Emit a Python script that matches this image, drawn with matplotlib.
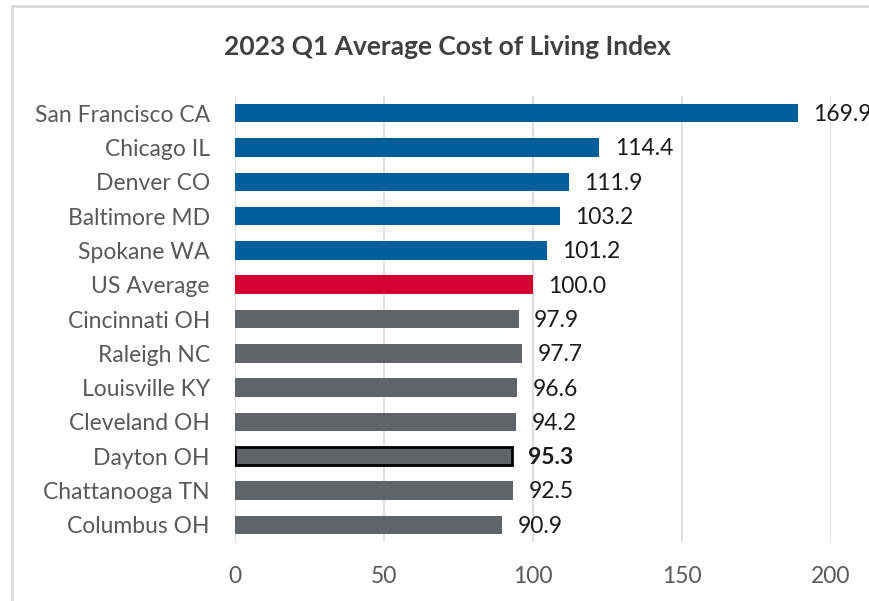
import matplotlib
matplotlib.use("Agg")
import matplotlib.pyplot as plt
from matplotlib.patches import Rectangle

# data
cities = ["San Francisco CA", "Chicago IL", "Denver CO", "Baltimore MD",
          "Spokane WA", "US Average", "Cincinnati OH", "Raleigh NC",
          "Louisville KY", "Cleveland OH", "Dayton OH", "Chattanooga TN",
          "Columbus OH"]
# bar lengths as drawn
bar_values = [188.8, 122.3, 112.0, 109.0, 104.6, 100.0, 95.2, 96.4,
              94.7, 94.3, 93.1, 93.4, 89.6]
# printed data labels
label_values = [169.9, 114.4, 111.9, 103.2, 101.2, 100.0, 97.9, 97.7,
                96.6, 94.2, 95.3, 92.5, 90.9]
x_ticks = [0, 50, 100, 150, 200]
title = "2023 Q1 Average Cost of Living Index"
highlight = "Dayton OH"
average = "US Average"

BLUE = "#005F9B"
RED = "#D50032"
GRAY = "#606469"

plt.rcParams['font.family'] = ['Lato', 'DejaVu Sans']

W, H = 869, 601
fig = plt.figure(figsize=(W / 100, H / 100), dpi=100)

# light frame around the chart
fig.patches.append(Rectangle((12 / W, -0.05), 1.1, 1.05 - 6 / H,
                             transform=fig.transFigure, fill=False,
                             edgecolor="#d9d9d9", linewidth=2))

ax = fig.add_axes([235 / W, 1 - 542 / H, (831 - 235) / W, (542 - 96) / H])

avg_idx = cities.index(average)
colors = [BLUE if i < avg_idx else RED if i == avg_idx else GRAY
          for i in range(len(cities))]

ypos = list(range(len(cities)))
bars = ax.barh(ypos, bar_values, height=0.54, color=colors, zorder=3)

hi = cities.index(highlight)
bars[hi].set_edgecolor("black")
bars[hi].set_linewidth(2)

for i, (b, v) in enumerate(zip(bar_values, label_values)):
    ax.annotate(f"{v:.1f}", xy=(b, i), xytext=(11, -1),
                textcoords="offset points", va="center", ha="left",
                fontsize=16.5, color="#1a1a1a",
                fontweight="bold" if i == hi else "normal")

ax.set_xlim(0, 200)
ax.set_ylim(len(cities) - 0.5, -0.5)
ax.set_xticks(x_ticks)
ax.set_yticks(ypos)
ax.set_yticklabels(cities)
ax.tick_params(axis="both", length=0, labelsize=16.5, labelcolor="#595959")
ax.tick_params(axis="y", pad=18)
ax.tick_params(axis="x", pad=17)
ax.grid(axis="x", color="#d9d9d9", linewidth=1.2, zorder=0)
for s in ax.spines.values():
    s.set_visible(False)

fig.text(447 / W, 1 - 47 / H, title, ha="center", va="center",
         fontsize=19, fontweight="bold", color="#404040")

fig.savefig("out.png", dpi=100)
